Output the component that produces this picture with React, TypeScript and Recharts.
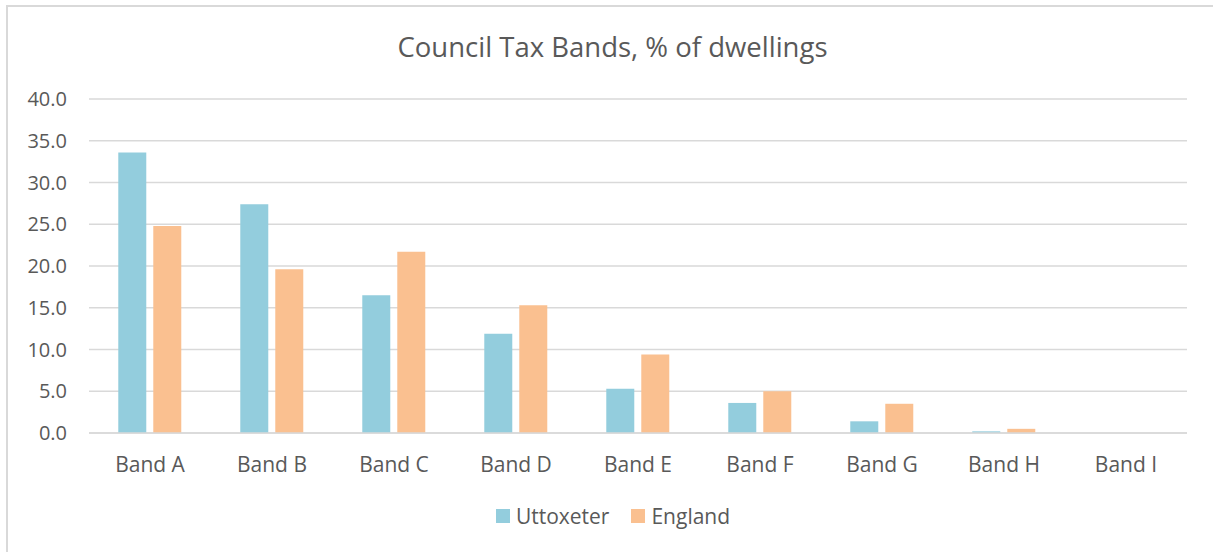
import { Bar, BarChart, CartesianGrid, XAxis, YAxis } from "recharts";

const bands = ["Band A", "Band B", "Band C", "Band D", "Band E", "Band F", "Band G", "Band H", "Band I"];
const uttoxeter = [33.6, 27.4, 16.5, 11.9, 5.3, 3.6, 1.4, 0.2, 0];
const england = [24.8, 19.6, 21.7, 15.3, 9.4, 5.0, 3.5, 0.5, 0];
const yTicks = [0, 5, 10, 15, 20, 25, 30, 35, 40];

const FONT = "'Open Sans', 'Noto Sans', sans-serif";
const TEXT = "#595959";

const series = [
  { key: "uttoxeter", name: "Uttoxeter", color: "#93CDDD" },
  { key: "england", name: "England", color: "#FAC090" },
];

const chartData = bands.map((band, i) => ({
  band,
  uttoxeter: uttoxeter[i],
  england: england[i],
}));

export default function App() {
  return (
    <div style={{ position: "absolute", left: 0, top: 0, width: 1213, height: 552, overflow: "hidden", background: "#fff" }}>
      <div
        style={{
          position: "absolute",
          left: 6,
          top: 5,
          width: 1240,
          height: 580,
          borderLeft: "2px solid #d9d9d9",
          borderTop: "2px solid #d9d9d9",
        }}
      />
      <div
        style={{
          position: "absolute",
          left: 0,
          top: 28,
          width: 1225,
          textAlign: "center",
          fontFamily: FONT,
          fontSize: 27.5,
          color: TEXT,
        }}
      >
        Council Tax Bands, % of dwellings
      </div>
      <div style={{ position: "absolute", left: 0, top: 0 }}>
        <BarChart
          width={1213}
          height={552}
          data={chartData}
          margin={{ top: 99, right: 26, left: 0, bottom: 79 }}
          barCategoryGap="24%"
          barGap={7}
        >
          <CartesianGrid vertical={false} stroke="#d9d9d9" strokeWidth={1.5} />
          <XAxis
            dataKey="band"
            axisLine={{ stroke: "#d9d9d9", strokeWidth: 1.5 }}
            tickLine={false}
            tickMargin={18}
            tick={{ fill: TEXT, fontSize: 21, fontFamily: FONT }}
            height={40}
          />
          <YAxis
            domain={[0, 40]}
            ticks={yTicks}
            tickFormatter={(v: number) => v.toFixed(1)}
            axisLine={false}
            tickLine={false}
            tickMargin={16}
            width={89}
            tick={{ fill: TEXT, fontSize: 20, fontFamily: FONT }}
          />
          {series.map((s) => (
            <Bar key={s.key} dataKey={s.key} name={s.name} fill={s.color} isAnimationActive={false} />
          ))}
        </BarChart>
      </div>
      <div
        style={{
          position: "absolute",
          left: 0,
          top: 502,
          width: 1226,
          display: "flex",
          justifyContent: "center",
          fontFamily: FONT,
          fontSize: 21,
          color: TEXT,
        }}
      >
        {series.map((s) => (
          <div key={s.key} style={{ display: "flex", alignItems: "center", margin: "0 11px" }}>
            <span style={{ width: 14, height: 14, background: s.color, marginRight: 6, display: "inline-block" }} />
            <span>{s.name}</span>
          </div>
        ))}
      </div>
    </div>
  );
}
